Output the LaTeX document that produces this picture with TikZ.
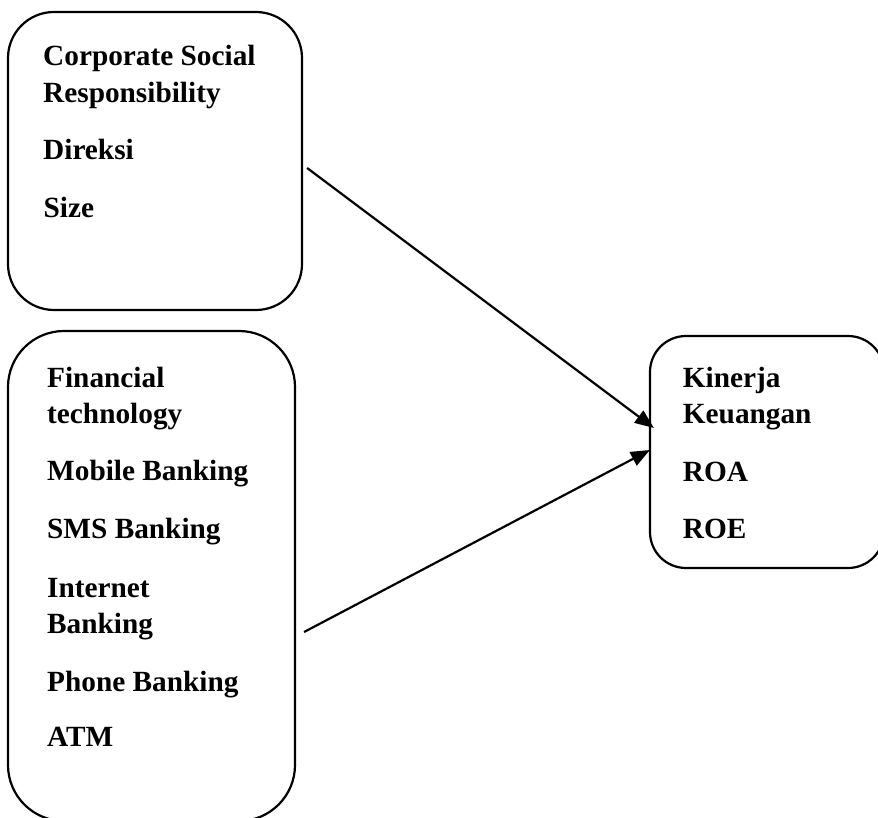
\documentclass[tikz,border=0pt]{standalone}
\usepackage{fontspec}
\setmainfont{Liberation Serif}
\usetikzlibrary{arrows.meta}
\begin{document}
\begin{tikzpicture}[x=1pt,y=-1pt,
  box/.style={draw, line width=2.2pt, rounded corners=#1, inner sep=0pt},
  box/.default=45pt,
  lbl/.style={anchor=base west, inner sep=0pt, align=left,
    font=\fontsize{29.3}{36.5}\selectfont\bfseries},
  link/.style={line width=2.2pt, -{Triangle[length=19pt,width=15pt]}}]
\useasboundingbox (0,0) rectangle (878,818);

% independent variables
\node[box=46pt, minimum width=294pt, minimum height=298pt] (csr) at (155,161) {};
\node[box=56pt, minimum width=287pt, minimum height=490pt] (fintech) at (151.5,576) {};
% dependent variable
\node[box=36pt, minimum width=234pt, minimum height=232pt] (kinerja) at (767,452) {};

% contents of the first box
\node[lbl] (t1) at (43,66) {\begin{tabular}[t]{@{}l@{}}Corporate Social\\Responsibility\end{tabular}};
\node[lbl] (t2) at (43,160) {Direksi};
\node[lbl] (t3) at (43.5,218) {Size};

% contents of the second box
\node[lbl] (f1) at (47,387.3) {\begin{tabular}[t]{@{}l@{}}Financial\\technology\end{tabular}};
\node[lbl] (f2) at (47,480.7) {Mobile Banking};
\node[lbl] (f3) at (47,538.3) {SMS Banking};
\node[lbl] (f4) at (47,597.3) {\begin{tabular}[t]{@{}l@{}}Internet\\Banking\end{tabular}};
\node[lbl] (f5) at (47,691.7) {Phone Banking};
\node[lbl] (f6) at (47,746.7) {ATM};

% contents of the third box
\node[lbl] (k1) at (682.7,387.3) {\begin{tabular}[t]{@{}l@{}}Kinerja\\Keuangan\end{tabular}};
\node[lbl] (k2) at (682.7,481) {ROA};
\node[lbl] (k3) at (682.7,538.3) {ROE};

% arrows into the dependent variable
\coordinate (s1) at ([shift={(4,7)}]csr.east);
\coordinate (s2) at ([shift={(8,56)}]fintech.east);
\draw[link] (s1) -- ([shift={(5,-24)}]kinerja.west);
\draw[link] (s2) -- ([shift={(1,-2)}]kinerja.west);
\end{tikzpicture}
\end{document}
